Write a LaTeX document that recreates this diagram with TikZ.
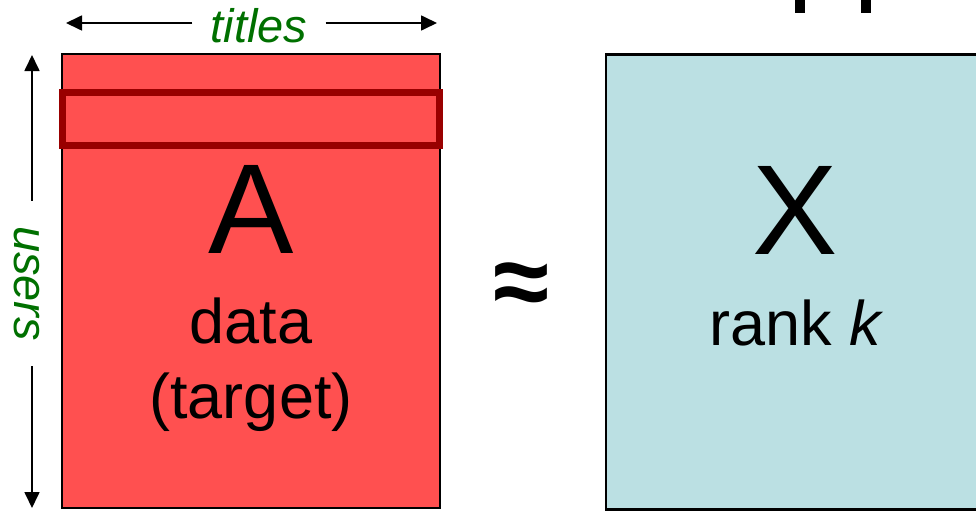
\documentclass[tikz,border=0pt]{standalone}
\usepackage{fontspec}
\setmainfont{Liberation Sans}
\usetikzlibrary{arrows.meta}
\definecolor{mred}{HTML}{FF5050}
\definecolor{mdark}{HTML}{990000}
\definecolor{mblue}{HTML}{BBE0E3}
\definecolor{mgreen}{HTML}{007000}
\tikzset{
  arr/.style={-{Triangle[length=16pt,width=15pt]}, line width=1.7pt, black},
  biglet/.style={anchor=base, inner sep=0pt, font=\fontsize{128}{128}\selectfont},
  midtxt/.style={anchor=base, inner sep=0pt, font=\fontsize{63}{63}\selectfont},
  axlab/.style={text=mgreen, inner ysep=0pt, font=\fontsize{47}{47}\selectfont\itshape},
}
\begin{document}
\begin{tikzpicture}[x=1pt,y=-1pt]
\useasboundingbox (0,0) rectangle (976,511);
% boxes
\node (Abox) [draw=black, line width=2pt, fill=mred, minimum width=378pt, minimum height=454pt, inner sep=0pt] at (251,281) {};
\draw[mdark, line width=7pt] (62.5,92.5) rectangle (439.5,145.5);
\node (Xbox) [draw=black, line width=2.5pt, fill=mblue, minimum width=380pt, minimum height=455pt, inner sep=0pt] at (796,282) {};
% top cut-off glyph pieces
\fill (795,0) rectangle (805,13);
\fill (861,0) rectangle (871,13);
% texts
\node (A) [biglet] at (251,253) {A};
\node (data) [midtxt] at (251,343) {data};
\node (target) [midtxt] at (251,418) {(target)};
\node (X) [biglet] at (795,254) {X};
\node (rank) [midtxt] at (797,345) {rank \textit{k}};
\node (approx) [inner sep=0pt, font=\fontsize{102}{102}\selectfont\bfseries] at (521,290) {≈};
% axis labels
\coordinate (tL) at (66,23);
\coordinate (tR) at (437,23);
\node (titles) [axlab, anchor=base, inner xsep=18pt] at (259,42) {titles};
\draw[arr] (titles.west |- tL) -- (tL);
\draw[arr] (titles.east |- tR) -- (tR);
\coordinate (uT) at (32,55);
\coordinate (uB) at (32,508);
\node (users) [axlab, rotate=-90, inner xsep=25pt] at (27,283.5) {users};
\draw[arr] (users.west -| uT) -- (uT);
\draw[arr] (users.east -| uB) -- (uB);
\end{tikzpicture}
\end{document}
